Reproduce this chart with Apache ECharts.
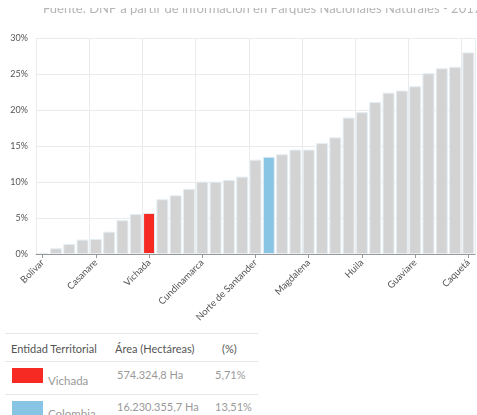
<!DOCTYPE html>
<html>
<head>
<meta charset="utf-8">
<script src="https://cdn.jsdelivr.net/npm/echarts@6/dist/echarts.min.js"></script>
<style>
html,body{margin:0;padding:0;background:#fff;overflow:hidden;}
#chart{position:absolute;left:0;top:0;width:477px;height:330px;}
#clip{position:absolute;left:0;top:0;width:477px;height:8px;background:#fff;}
#tbl{position:absolute;left:5px;top:333px;width:253px;font-family:Lato,'Open Sans',sans-serif;}
.row{position:relative;border-top:1px solid #e6e6e6;}
.cell{position:absolute;white-space:nowrap;font-size:11px;}
</style>
</head>
<body>
<div id="chart"></div>
<div id="clip"></div>
<div id="tbl">
  <div class="row" style="height:27px;">
    <div class="cell" style="left:6px;top:8px;color:#555;">Entidad Territorial</div>
    <div class="cell" style="left:110px;top:8px;color:#555;">Área (Hectáreas)</div>
    <div class="cell" style="left:217px;top:8px;color:#555;">(%)</div>
  </div>
  <div class="row" style="height:32px;">
    <div style="position:absolute;left:7px;top:6px;width:31px;height:15px;background:#f62a22;"></div>
    <div class="cell" style="left:43px;top:12px;color:#999;font-size:11.5px;">Vichada</div>
    <div class="cell" style="left:112px;top:6px;color:#999;">574.324,8 Ha</div>
    <div class="cell" style="left:210px;top:6px;color:#999;">5,71%</div>
  </div>
  <div class="row" style="height:32px;">
    <div style="position:absolute;left:7px;top:6px;width:31px;height:15px;background:#88c5e5;"></div>
    <div class="cell" style="left:43px;top:12px;color:#999;font-size:11.5px;">Colombia</div>
    <div class="cell" style="left:112px;top:5px;color:#999;">16.230.355,7 Ha</div>
    <div class="cell" style="left:210px;top:5px;color:#999;">13,51%</div>
  </div>
</div>
<script>
var categories = ['Bolivar','Atlántico','Sucre','Córdoba','Casanare','Santander','Arauca','Antioquia','Vichada','Caldas','Cesar','La Guajira','Cundinamarca','Risaralda','Quindío','Valle del Cauca','Norte de Santander','Colombia','Tolima','Boyacá','Magdalena','Cauca','Nariño','Chocó','Huila','Putumayo','Meta','Amazonas','Guaviare','Vaupés','Guainía','San Andrés','Caquetá'];
var values = [0.15,0.8,1.4,2.0,2.1,3.1,4.7,5.55,5.71,7.6,8.15,9.05,10.05,10.05,10.3,10.75,13.1,13.51,13.85,14.5,14.5,15.4,16.2,18.95,19.7,21.1,22.4,22.7,23.3,25.1,25.8,26.0,28.0];
var highlightRed = 'Vichada';
var highlightBlue = 'Colombia';
var yTicks = [0,5,10,15,20,25,30];

var chart = echarts.init(document.getElementById('chart'));
var data = values.map(function(v,i){
  var c = '#d3d3d3';
  if (categories[i] === highlightRed) c = '#f62a22';
  if (categories[i] === highlightBlue) c = '#88c5e5';
  return {value: v, itemStyle: {color: c}};
});
chart.setOption({
  animation: false,
  title: {
    text: 'Fuente: DNP a partir de información en Parques Nacionales Naturales - 2017',
    left: 38, top: -3,
    textStyle: {fontFamily: 'Lato', fontWeight: 'normal', fontSize: 13, color: '#b5b5b5'}
  },
  grid: {left: 36, right: 2, top: 38, bottom: 76},
  xAxis: {
    type: 'category',
    data: categories,
    axisLine: {lineStyle: {color: '#999'}},
    axisTick: {show: true, alignWithLabel: true, interval: 3, length: 4, lineStyle: {color: '#999'}},
    axisLabel: {interval: 3, rotate: 45, fontSize: 9.5, color: '#555', fontFamily: 'Lato', margin: 7},
    splitLine: {show: true, interval: 3, lineStyle: {color: '#ebebeb'}}
  },
  yAxis: {
    type: 'value',
    min: yTicks[0], max: yTicks[yTicks.length-1], interval: 5,
    axisLabel: {formatter: '{value}%', fontSize: 9, color: '#555', fontFamily: 'Lato', margin: 8},
    splitLine: {lineStyle: {color: '#ebebeb'}},
    axisLine: {show: false}, axisTick: {show: false}
  },
  series: [{
    type: 'bar',
    data: data,
    barCategoryGap: '10%',
    itemStyle: {borderColor: '#e4eef4', borderWidth: 1}
  }]
});
</script>
</body>
</html>
